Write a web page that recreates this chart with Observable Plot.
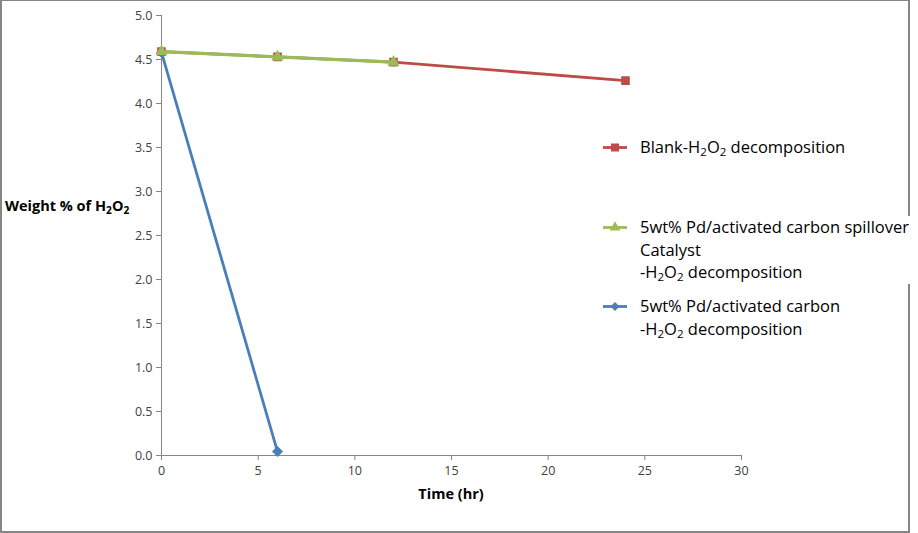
<!DOCTYPE html>
<html><head><meta charset="utf-8">
<script src="https://cdn.jsdelivr.net/npm/d3@7"></script>
<script src="https://cdn.jsdelivr.net/npm/@observablehq/plot@0.6"></script>
<style>
body{margin:0;background:#fff;}
#wrap{position:relative;width:918px;height:533px;font-family:"Open Sans",Lato,sans-serif;color:#000;overflow:hidden;}
#frame{position:absolute;left:0px;top:-1px;width:910px;height:534px;border:2px solid #858585;box-sizing:border-box;}
#chart{position:absolute;left:0;top:0;}
.ttl{position:absolute;font-weight:bold;white-space:nowrap;}
.leg{position:absolute;left:603px;font-size:16.5px;line-height:22.5px;white-space:nowrap;background:#fff;padding-right:2px;}
.leg svg{position:absolute;left:0;top:0;}
.leg .t{margin-left:37px;display:block;}
sub{font-size:0.7em;line-height:0;vertical-align:-0.3em;}
</style></head>
<body>
<div id="wrap">
<div id="frame"></div>
<div id="chart"></div>
</div>
<script>
const hours = [0, 6, 12, 24];
const blank = [4.59, 4.53, 4.47, 4.26];
const spillover = [4.59, 4.53, 4.47];
const pdCarbon = [4.58, 0.045];
const xTicks = [0, 5, 10, 15, 20, 25, 30];
const yTicks = [0, 0.5, 1, 1.5, 2, 2.5, 3, 3.5, 4, 4.5, 5];
const seriesNames = ["Blank", "Spillover", "PdCarbon"];
const colors = ["#BE4B48", "#9BBB59", "#4A7EBB"];
const symbols = ["square", "triangle", "diamond2"];

const rows = [];
blank.forEach((v, i) => rows.push({s: seriesNames[0], t: hours[i], w: v}));
spillover.forEach((v, i) => rows.push({s: seriesNames[1], t: hours[i], w: v}));
pdCarbon.forEach((v, i) => rows.push({s: seriesNames[2], t: hours[i], w: v}));
const order = [seriesNames[2], seriesNames[0], seriesNames[1]];

const marks = [
  Plot.axisY({ticks: yTicks, tickFormat: d3.format(".1f"), tickSize: 5, tickPadding: 4, stroke: "#868686", fill: "#404040", fontSize: 12.5, label: null}),
  Plot.axisX({ticks: xTicks, tickSize: 5, tickPadding: 6, stroke: "#868686", fill: "#404040", fontSize: 12.5, label: null}),
  Plot.ruleX([0], {stroke: "#868686"}),
  Plot.ruleY([0], {stroke: "#868686"})
];
order.forEach(name => {
  const k = seriesNames.indexOf(name);
  const d = rows.filter(r => r.s === name);
  marks.push(Plot.line(d, {x: "t", y: "w", stroke: colors[k], strokeWidth: k === 1 ? 3.2 : 2.8}));
  marks.push(Plot.dot(d, {x: "t", y: "w", symbol: symbols[k], fill: colors[k], stroke: colors[k], r: k === 1 ? 3.6 : 4}));
});

const plot = Plot.plot({
  width: 918, height: 533,
  marginLeft: 161, marginRight: 177, marginTop: 15, marginBottom: 78,
  style: {fontFamily: "'Open Sans', Lato, sans-serif", background: "transparent"},
  x: {domain: [0, 30]},
  y: {domain: [0, 5]},
  marks
});
document.getElementById("chart").appendChild(plot);

const wrap = document.getElementById("wrap");
function addHTML(html){ const t = document.createElement("div"); t.innerHTML = html; const el = t.firstElementChild; wrap.appendChild(el); return el; }

addHTML(`<div class="ttl" style="left:5px;top:196px;font-size:14.5px;">Weight % of H<sub>2</sub>O<sub>2</sub></div>`);
addHTML(`<div class="ttl" style="left:0;width:902px;text-align:center;top:484px;font-size:14.5px;">Time (hr)</div>`);

const legendItems = [
  {k: 0, top: 136, lines: ["Blank-H<sub>2</sub>O<sub>2</sub> decomposition"]},
  {k: 1, top: 216, lines: ["5wt% Pd/activated carbon spillover", "Catalyst", "-H<sub>2</sub>O<sub>2</sub> decomposition"]},
  {k: 2, top: 295, lines: ["5wt% Pd/activated carbon", "-H<sub>2</sub>O<sub>2</sub> decomposition"]}
];
legendItems.forEach(item => {
  const el = addHTML(`<div class="leg" style="top:${item.top}px;">${item.lines.map(l => `<span class="t">${l}</span>`).join("")}</div>`);
  const sw = d3.create("svg").attr("width", 30).attr("height", 22);
  sw.append("line").attr("x1", 0).attr("x2", 24).attr("y1", 11.5).attr("y2", 11.5).attr("stroke", colors[item.k]).attr("stroke-width", 2.8);
  const sizes = [64, 50, 50];
  const sym = [d3.symbolSquare, d3.symbolTriangle, d3.symbolDiamond2][item.k];
  sw.append("path").attr("d", d3.symbol(sym, sizes[item.k])()).attr("transform", "translate(12,11.5)").attr("fill", colors[item.k]);
  el.prepend(sw.node());
});
</script>
</body></html>
